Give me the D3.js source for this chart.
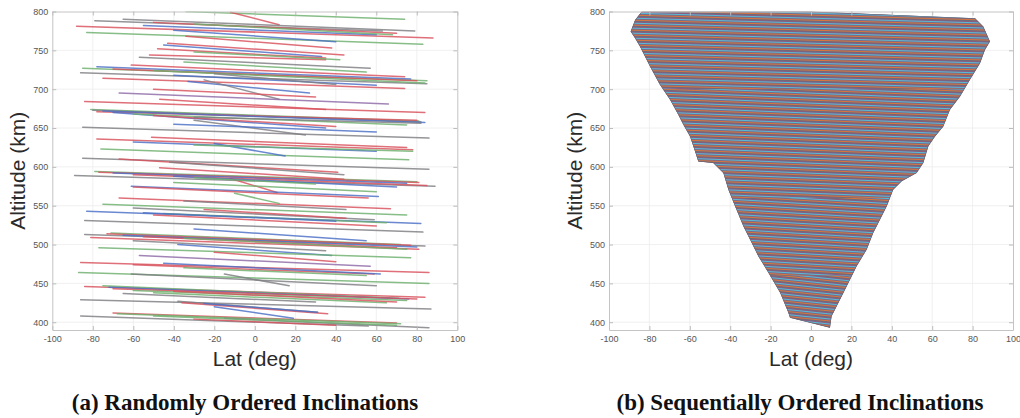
<!DOCTYPE html>
<html>
<head>
<meta charset="utf-8">
<script src="https://cdn.jsdelivr.net/npm/d3@7"></script>
<style>
  html, body { margin: 0; padding: 0; background: #fff; }
  svg { display: block; }
  .tick text { font-family: "Liberation Sans", Arial, Helvetica, sans-serif; font-size: 9px; fill: #555; }
  .axis-title { font-family: "Liberation Sans", Arial, Helvetica, sans-serif; font-size: 21px; fill: #2a2a2a; }
  .caption { font-family: "Liberation Serif", "Times New Roman", serif; font-weight: bold; font-size: 23px; fill: #111; }
</style>
</head>
<body>
<svg id="chart" width="1020" height="418"></svg>
<script>
// ---------------- data ----------------
const xTicks = [-100, -80, -60, -40, -20, 0, 20, 40, 60, 80, 100];
const yTicks = [400, 450, 500, 550, 600, 650, 700, 750, 800];
const latDomain = [-100, 100];
const altDomain = [390, 800];

const xLabel = "Lat (deg)";
const yLabel = "Altitude (km)";
const captionA = "(a) Randomly Ordered Inclinations";
const captionB = "(b) Sequentially Ordered Inclinations";

// Panel (a): one orbit track per entry (start lat/alt -> end lat/alt)
const randomStartLat = [-34,-12,-79,-65,-88,-83,-40,-34,-43,-45,-57,-52,-85,-78,-61,-86,-75,-33,-25,-67,-84,-47,-81,-80,-78,-70,-30,-85,-78,-51,-76,-20,-85,-67,-42,-89,-79,-77,-70,-47,-12,-61,-60,-67,-75,-60,-83,-10,-84,-84,-71,-73,-65,-81,-38,-77,-57,-86,-60,-87,-61,-15,-84,-75,-72,-70,-86,-38,-36,-25,-70,-68,-86,-20,-15,-55,-35,-50,-40,-25,-45,-30,-20,-50,-40,
  -50,-30,-70,-50,-40,-20,-75,-60,-50,-30,-60,-40,-30,-55,-50,-55,-35,-60,-45,-35,-60,-40,-65,-50,-30,-48,-30,-60,-30,-35];
const randomStartAlt = [800,799,788,790,781,773,776,768,759,757,741,744,727,729,731,721,714,710,712,695,684,687,674,673,671,670,660,651,636,638,623,630,611,610,606,589,594,593,592,599,585,575,574,560,552,547,543,566,531,513,515,514,512,509,500,496,486,477,474,464,462,462,446,447,445,443,429,427,425,424,412,411,408,420,405,782,735,700,655,545,540,520,490,438,580,
  786,784,726,724,718,720,672,668,666,664,590,588,586,541,538,510,508,505,476,470,441,440,437,408,404,752,748,632,628,556];
const randomEndLat = [74,12,63,79,88,83,40,38,44,33,57,35,85,77,74,85,74,27,12,66,84,35,81,82,80,35,25,86,78,75,76,15,86,41,44,89,80,81,75,44,11,61,56,67,75,59,82,12,83,84,72,77,80,81,38,77,57,86,59,86,60,17,84,71,76,80,87,31,36,31,70,72,56,19,86,60,55,30,60,45,65,55,40,65,60,
  70,68,80,84,60,40,84,75,40,82,85,70,30,40,60,70,75,35,62,55,75,70,30,70,40,35,42,60,78,45];
const randomEndAlt = [790,783,775,775,766,758,761,753,744,742,727,738,711,713,716,707,701,695,687,681,670,674,659,658,660,650,641,637,622,625,609,614,597,593,590,575,581,580,579,584,567,562,560,546,538,532,527,553,516,498,500,499,497,494,486,483,472,464,462,450,447,447,432,431,430,430,417,413,411,413,399,398,395,405,393,770,722,690,645,534,528,505,478,425,568,
  772,770,711,708,705,706,657,654,652,656,576,574,578,530,524,496,494,492,462,460,428,426,426,396,396,740,738,620,620,545];
const randomColorIdx = [2,0,3,3,0,2,1,0,0,1,3,0,2,1,0,3,0,1,3,4,0,0,2,3,0,1,3,3,0,0,2,1,3,0,3,3,2,0,1,0,0,1,0,0,2,3,1,2,3,3,2,0,1,0,1,2,4,0,0,2,3,3,0,2,1,0,3,3,0,1,0,2,3,1,3,1,2,0,1,0,2,1,0,2,2,
  0,2,0,2,1,3,1,2,0,3,0,1,2,1,0,0,2,3,1,2,2,0,3,2,0,0,2,1,2,3];
const randomPalette = ["#d8505c", "#4b6fc6", "#6cb06c", "#7e7e82", "#8d6aa6"];

// Panel (b): outline of the sequentially ordered band (lat, alt)
const seqOutlineLat = [-83.8, -0.5, 81.2, 85.3, 88.6, 86.1, 83.7, 78.7, 73.8, 68.8, 65.5, 61.4, 58.1, 55.6, 52.3, 44.9, 40.7, 37.5, 34.2, 30.8, 27.6, 22.6, 17.7, 14.4, 10.2, 9.4,
  -10.4, -11.2, -15.3, -21.1, -26.1, -30.2, -33.5, -37.6, -40.9, -43.4, -48.4, -55.8, -57.4, -59.9, -63.2, -65.7, -69.8, -74.8, -79.7, -84.7, -87.1, -89.3, -87.1];
const seqOutlineAlt = [800, 800, 791.4, 780.6, 761.3, 750.6, 733.5, 712.1, 690.6, 673.5, 652.1, 639.2, 626.4, 605, 592.1, 581.4, 570.7, 549.2, 532.1, 515, 493.6, 472.1, 446.4, 429.3, 407.8, 393,
  405.8, 412.2, 437.9, 463.6, 485, 506.4, 523.5, 549.2, 570.7, 592.1, 605, 607, 619.9, 639.2, 654.1, 667, 686.4, 705.6, 729.2, 754.9, 765.7, 774.2, 789];
// stripe colours of the overlapping tracks (MATLAB-like colour order)
const seqStripeColors = ["#58bcd6", "#7a6a86", "#d8763e", "#6d6a78", "#8b5c82"];

// ---------------- drawing ----------------
const svg = d3.select("#chart");
const plotTop = 11.5, plotBottom = 330;
const y = d3.scaleLinear(altDomain, [plotBottom, plotTop]);
const panels = [
  { id: "a", x: d3.scaleLinear(latDomain, [52.3, 457.3]), titleX: 18, caption: captionA, capX: 245 },
  { id: "b", x: d3.scaleLinear(latDomain, [609, 1013]), titleX: 575, caption: captionB, capX: 800 }
];

const defs = svg.append("defs");

// stripe patterns with slightly different tilt by altitude band
const bands = [
  { lo: 700, hi: 801, angle: 1.6 },
  { lo: 560, hi: 700, angle: 2.3 },
  { lo: 460, hi: 560, angle: 3.4 },
  { lo: 380, hi: 460, angle: 6.0 }
];
bands.forEach((b, i) => {
  const p = defs.append("pattern")
    .attr("id", "stripes" + i)
    .attr("patternUnits", "userSpaceOnUse")
    .attr("width", 40).attr("height", seqStripeColors.length)
    .attr("patternTransform", `rotate(${b.angle})`);
  seqStripeColors.forEach((c, k) => {
    p.append("rect").attr("x", 0).attr("y", k).attr("width", 40).attr("height", 1).attr("fill", c);
  });
});

panels.forEach(P => {
  const x = P.x;
  const g = svg.append("g");
  const [x0, x1] = x.range();

  defs.append("clipPath").attr("id", "clip" + P.id)
    .append("rect").attr("x", x0).attr("y", plotTop).attr("width", x1 - x0).attr("height", plotBottom - plotTop);

  // grid
  g.append("g").selectAll("line").data(xTicks.slice(1, -1)).join("line")
    .attr("x1", d => x(d)).attr("x2", d => x(d)).attr("y1", plotTop).attr("y2", plotBottom)
    .attr("stroke", "#ececec").attr("stroke-width", 0.8);
  g.append("g").selectAll("line").data(yTicks.slice(0, -1)).join("line")
    .attr("x1", x0).attr("x2", x1).attr("y1", d => y(d)).attr("y2", d => y(d))
    .attr("stroke", "#ececec").attr("stroke-width", 0.8);

  const plot = g.append("g").attr("clip-path", `url(#clip${P.id})`);

  if (P.id === "a") {
    const idx = d3.range(randomStartLat.length);
    plot.selectAll("line.trk").data(idx).join("line").attr("class", "trk")
      .attr("x1", i => x(randomStartLat[i])).attr("y1", i => y(randomStartAlt[i]))
      .attr("x2", i => x(randomEndLat[i])).attr("y2", i => y(randomEndAlt[i]))
      .attr("stroke", i => randomPalette[randomColorIdx[i]])
      .attr("stroke-width", 1.5).attr("stroke-opacity", 0.82).attr("stroke-linecap", "round");
  } else {
    const pts = seqOutlineLat.map((d, i) => [x(d), y(seqOutlineAlt[i])]);
    const outline = d3.line()(pts) + "Z";
    defs.append("clipPath").attr("id", "shapeClip").append("path").attr("d", outline);
    const shape = plot.append("g").attr("clip-path", "url(#shapeClip)");
    shape.append("path").attr("d", outline).attr("fill", "#7b6d80");
    bands.forEach((b, i) => {
      shape.append("rect")
        .attr("x", x0).attr("width", x1 - x0)
        .attr("y", y(Math.min(b.hi, 800.5))).attr("height", y(b.lo) - y(Math.min(b.hi, 800.5)))
        .attr("fill", `url(#stripes${i})`);
    });
    shape.append("path").attr("d", outline).attr("fill", "none").attr("stroke", "#6d6574").attr("stroke-width", 1.2);
  }

  // axes (MATLAB style: ticks inside, box on)
  const axStyle = sel => {
    sel.select(".domain").attr("stroke", "#c4c4c4");
    sel.selectAll(".tick line").attr("stroke", "#bcbcbc");
  };
  const fmt = d => String(d);
  g.append("g").attr("transform", `translate(0,${plotBottom})`)
    .call(d3.axisBottom(x).tickValues(xTicks).tickSizeInner(-4).tickSizeOuter(0).tickPadding(6).tickFormat(fmt))
    .call(axStyle);
  g.append("g").attr("transform", `translate(0,${plotTop})`)
    .call(d3.axisTop(x).tickValues(xTicks).tickSizeInner(-4).tickSizeOuter(0).tickFormat(""))
    .call(axStyle);
  g.append("g").attr("transform", `translate(${x0},0)`)
    .call(d3.axisLeft(y).tickValues(yTicks).tickSizeInner(-4).tickSizeOuter(0).tickPadding(4).tickFormat(fmt))
    .call(axStyle);
  g.append("g").attr("transform", `translate(${x1},0)`)
    .call(d3.axisRight(y).tickValues(yTicks).tickSizeInner(-4).tickSizeOuter(0).tickFormat(""))
    .call(axStyle);

  // titles
  g.append("text").attr("class", "axis-title")
    .attr("transform", `translate(${P.titleX + 7},${(plotTop + plotBottom) / 2}) rotate(-90)`)
    .attr("text-anchor", "middle").text(yLabel);
  g.append("text").attr("class", "axis-title")
    .attr("x", (x0 + x1) / 2).attr("y", 366).attr("text-anchor", "middle").text(xLabel);
  g.append("text").attr("class", "caption")
    .attr("x", P.capX).attr("y", 410).attr("text-anchor", "middle").text(P.caption);
});
</script>
</body>
</html>
